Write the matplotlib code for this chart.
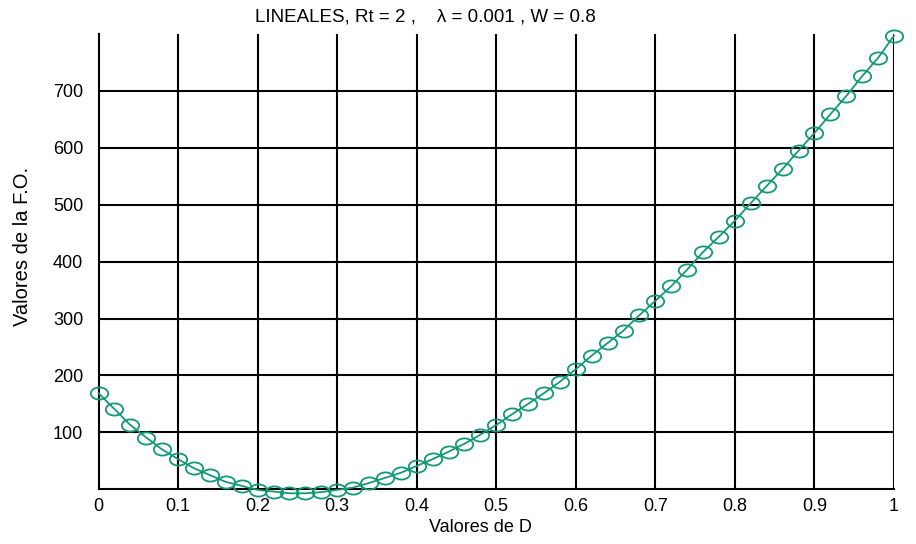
import numpy as np
import matplotlib
matplotlib.use("Agg")
import matplotlib.pyplot as plt
from matplotlib.path import Path
from matplotlib.transforms import Affine2D

plt.rcParams['font.family'] = ['Liberation Sans', 'DejaVu Sans']

# valores de D (paso 0.02) y de la función objetivo
D = [0.00, 0.02, 0.04, 0.06, 0.08, 0.10, 0.12, 0.14, 0.16, 0.18,
     0.20, 0.22, 0.24, 0.26, 0.28, 0.30, 0.32, 0.34, 0.36, 0.38,
     0.40, 0.42, 0.44, 0.46, 0.48, 0.50, 0.52, 0.54, 0.56, 0.58,
     0.60, 0.62, 0.64, 0.66, 0.68, 0.70, 0.72, 0.74, 0.76, 0.78,
     0.80, 0.82, 0.84, 0.86, 0.88, 0.90, 0.92, 0.94, 0.96, 0.98, 1.00]
FO = [169, 141, 113, 91, 70, 53, 37, 25, 13, 6,
      -1, -4, -7, -7, -5, -1, 3, 11, 20, 29,
      41, 53, 66, 80, 96, 113, 132, 150, 169, 189,
      211, 235, 257, 279, 306, 331, 357, 386, 417, 444,
      472, 503, 533, 563, 595, 626, 659, 691, 726, 758, 797]

x_ticks = [0, 0.1, 0.2, 0.3, 0.4, 0.5, 0.6, 0.7, 0.8, 0.9, 1]
x_labels = ['0', '0.1', '0.2', '0.3', '0.4', '0.5', '0.6', '0.7', '0.8', '0.9', '1']
y_ticks = [100, 200, 300, 400, 500, 600, 700]

verde = '#14987a'

# marcador elíptico (más ancho que alto)
elipse = Path.unit_circle().transformed(Affine2D().scale(1.0, 0.7))

W, H = 916, 544
fig = plt.figure(figsize=(W / 100, H / 100), dpi=100)
ax = fig.add_axes([98.5 / W, (H - 489.3) / H, 795.5 / W, 455.3 / H])

for xv in x_ticks[1:]:
    ax.plot([xv, xv], [0, 800], color='black', lw=1.5, zorder=1)
for yv in y_ticks:
    ax.plot([0, 1], [yv, yv], color='black', lw=1.5, zorder=1)

ax.plot(D, FO, color=verde, lw=1.3, marker=elipse, markersize=12.5,
        markerfacecolor='none', markeredgecolor=verde, markeredgewidth=1.3,
        clip_on=False, zorder=3)

ax.set_xlim(0, 1)
ax.set_ylim(0, 800)
ax.set_xticks(x_ticks)
ax.set_xticklabels(x_labels)
ax.set_yticks(y_ticks)
ax.tick_params(axis='x', length=0, labelsize=13, pad=6)
ax.tick_params(axis='y', length=0, labelsize=13, pad=11)
for s in ['top', 'right']:
    ax.spines[s].set_visible(False)
for s in ['left', 'bottom']:
    ax.spines[s].set_linewidth(1.5)

fig.text(480 / W, 1 - 528 / H, 'Valores de D', fontsize=13, ha='center', va='center')
fig.text(23 / W, 1 - 246 / H, 'Valores de la F.O.', fontsize=14.5, rotation=90,
         ha='center', va='center')
fig.text(425 / W, 1 - 17 / H, 'LINEALES, Rt = 2 ,    λ = 0.001 , W = 0.8',
         fontsize=13.5, ha='center', va='center')

fig.savefig('out.png', dpi=100)
